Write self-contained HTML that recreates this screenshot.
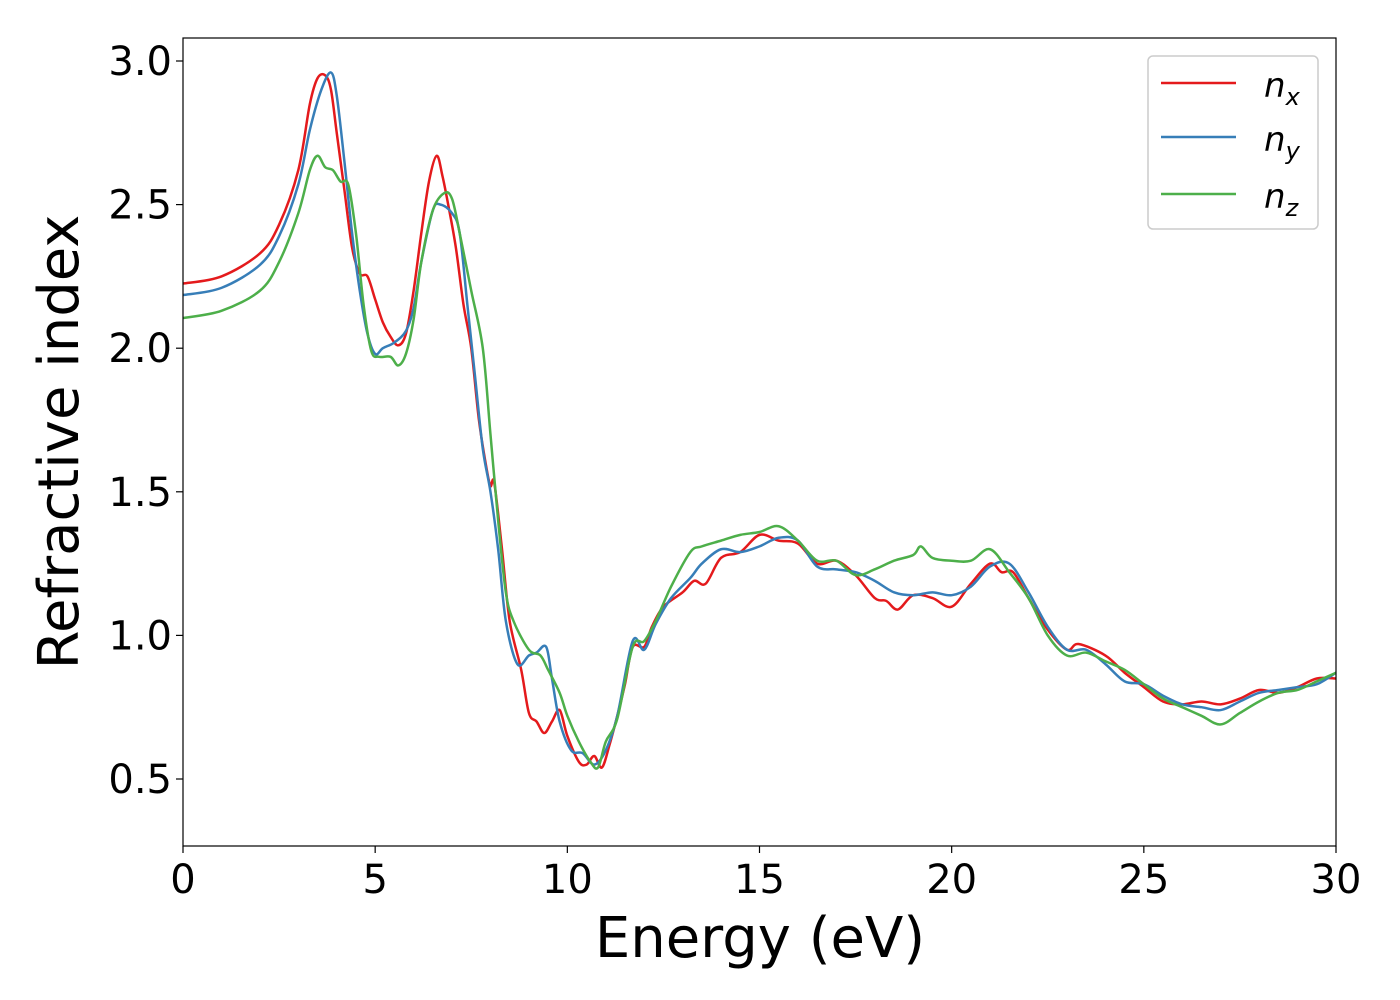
<!DOCTYPE html>
<html><head><meta charset="utf-8"><style>
body{margin:0;background:#fff;}
svg{display:block;font-family:"DejaVu Sans","Liberation Sans",sans-serif;}
</style></head><body>
<svg id="chart" width="1400" height="1000" xmlns="http://www.w3.org/2000/svg">
<rect x="0" y="0" width="1400" height="1000" fill="#fff"/>
<g id="series"></g>
<rect x="183" y="38" width="1153" height="808" fill="none" stroke="#000" stroke-width="1.2"/>
<g id="ticks"></g>
<text x="760" y="957" font-size="56" text-anchor="middle">Energy (eV)</text>
<text transform="translate(78,442) rotate(-90)" font-size="56" text-anchor="middle">Refractive index</text>
<g>
<rect x="1148" y="56" width="170" height="173" rx="5" fill="#fff" stroke="#ccc" stroke-width="1.5"/>
<line x1="1161" y1="83" x2="1236" y2="83" stroke="#e41a1c" stroke-width="2.5"/>
<text x="1264" y="97" font-size="34" font-style="italic">n<tspan font-size="24" dy="8">x</tspan></text>
<line x1="1161" y1="137" x2="1236" y2="137" stroke="#377eb8" stroke-width="2.5"/>
<text x="1264" y="151" font-size="34" font-style="italic">n<tspan font-size="24" dy="8">y</tspan></text>
<line x1="1161" y1="194" x2="1236" y2="194" stroke="#4daf4a" stroke-width="2.5"/>
<text x="1264" y="208" font-size="34" font-style="italic">n<tspan font-size="24" dy="8">z</tspan></text>
</g>
</svg>
<script>
const xTicks=[0,5,10,15,20,25,30];
const yTicks=[0.5,1.0,1.5,2.0,2.5,3.0];
const yTickLabels=["0.5","1.0","1.5","2.0","2.5","3.0"];
const nxE=[0,1,2,2.5,3,3.3,3.5,3.7,3.85,4.0,4.2,4.4,4.6,4.8,5.0,5.2,5.4,5.6,5.8,6.0,6.2,6.4,6.6,6.75,6.9,7.1,7.3,7.5,7.7,7.9,8.0,8.1,8.3,8.5,8.8,9.0,9.2,9.4,9.6,9.8,10.0,10.3,10.5,10.7,10.9,11.1,11.3,11.5,11.7,12.0,12.2,12.5,13,13.3,13.6,14,14.5,15,15.5,16,16.5,17,17.5,18,18.3,18.6,19,19.5,20,20.5,21,21.3,21.6,22,22.5,23,23.3,24,24.5,25,25.5,26,26.5,27,27.5,28,28.5,29,29.5,30];
const nxV=[2.225,2.25,2.33,2.43,2.62,2.85,2.94,2.95,2.90,2.75,2.55,2.35,2.26,2.25,2.17,2.09,2.04,2.01,2.05,2.20,2.40,2.58,2.67,2.60,2.50,2.35,2.15,2.00,1.75,1.58,1.52,1.53,1.30,1.05,0.88,0.73,0.70,0.66,0.70,0.74,0.65,0.56,0.55,0.58,0.54,0.62,0.72,0.83,0.96,0.96,1.03,1.10,1.15,1.19,1.18,1.27,1.29,1.35,1.33,1.32,1.25,1.26,1.21,1.13,1.12,1.09,1.14,1.13,1.10,1.18,1.25,1.22,1.22,1.13,1.02,0.95,0.97,0.93,0.87,0.82,0.77,0.76,0.77,0.76,0.78,0.81,0.80,0.82,0.85,0.85];
const nyE=[0,1,2,2.5,3,3.3,3.6,3.85,4.0,4.2,4.4,4.6,4.8,5.0,5.2,5.5,5.8,6.0,6.2,6.5,6.7,7.0,7.2,7.4,7.6,7.8,8.0,8.2,8.4,8.7,9.0,9.2,9.45,9.6,9.8,10.1,10.4,10.7,11.0,11.3,11.7,12.0,12.3,12.7,13.2,13.5,14,14.5,15,15.5,16,16.5,17,17.5,18,18.5,19,19.5,20,20.5,21,21.5,22,22.5,23,23.5,24,24.5,25,25.5,26,26.5,27,27.5,28,28.5,29,29.5,30];
const nyV=[2.185,2.21,2.29,2.39,2.57,2.76,2.90,2.96,2.88,2.65,2.40,2.20,2.05,1.98,2.00,2.02,2.06,2.14,2.30,2.48,2.50,2.47,2.40,2.15,1.90,1.65,1.50,1.30,1.05,0.90,0.93,0.94,0.96,0.85,0.70,0.60,0.59,0.55,0.60,0.72,0.98,0.95,1.04,1.13,1.20,1.25,1.30,1.29,1.31,1.34,1.33,1.24,1.23,1.22,1.19,1.15,1.14,1.15,1.14,1.17,1.24,1.25,1.15,1.03,0.95,0.95,0.90,0.84,0.83,0.79,0.76,0.75,0.74,0.77,0.80,0.81,0.82,0.83,0.87];
const nzE=[0,1,2,2.5,3,3.3,3.5,3.7,3.9,4.1,4.3,4.5,4.7,4.9,5.1,5.4,5.6,5.8,6.0,6.2,6.5,6.8,7.0,7.2,7.5,7.8,8.0,8.2,8.4,8.6,9.0,9.3,9.5,9.8,10.0,10.3,10.6,10.8,11.0,11.3,11.7,12.0,12.3,12.7,13.2,13.5,14,14.5,15,15.5,16,16.5,17,17.5,18,18.5,19,19.2,19.5,20,20.5,21,21.5,22,22.5,23,23.5,24,24.5,25,25.5,26,26.5,27,27.5,28,28.5,29,29.5,30];
const nzV=[2.105,2.13,2.20,2.30,2.47,2.62,2.67,2.63,2.62,2.58,2.57,2.40,2.15,1.99,1.97,1.97,1.94,1.98,2.10,2.30,2.48,2.54,2.52,2.40,2.20,2.00,1.70,1.40,1.15,1.05,0.95,0.93,0.88,0.80,0.72,0.63,0.56,0.54,0.63,0.71,0.96,0.98,1.05,1.17,1.29,1.31,1.33,1.35,1.36,1.38,1.33,1.26,1.26,1.21,1.23,1.26,1.28,1.31,1.27,1.26,1.26,1.30,1.22,1.13,1.00,0.93,0.94,0.91,0.88,0.83,0.78,0.75,0.72,0.69,0.73,0.77,0.80,0.81,0.84,0.87];
const NS="http://www.w3.org/2000/svg";
const xs=e=>183+(e-0)/30*1153;
const ys=v=>779-(v-0.5)*287.2;
function smooth(E,V){
  const p=E.map((e,i)=>[xs(e),ys(V[i])]);
  let d="M"+p[0][0]+","+p[0][1];
  for(let i=0;i<p.length-1;i++){
    const p0=p[Math.max(0,i-1)],p1=p[i],p2=p[i+1],p3=p[Math.min(p.length-1,i+2)];
    const c1=[p1[0]+(p2[0]-p0[0])/6,p1[1]+(p2[1]-p0[1])/6];
    const c2=[p2[0]-(p3[0]-p1[0])/6,p2[1]-(p3[1]-p1[1])/6];
    d+=" C"+c1[0]+","+c1[1]+" "+c2[0]+","+c2[1]+" "+p2[0]+","+p2[1];
  }
  return d;
}
const g=document.getElementById("series");
[[nxE,nxV,"#e41a1c","line-nx"],[nyE,nyV,"#377eb8","line-ny"],[nzE,nzV,"#4daf4a","line-nz"]].forEach(s=>{
  const el=document.createElementNS(NS,"path");
  el.setAttribute("d",smooth(s[0],s[1]));
  el.setAttribute("fill","none");
  el.setAttribute("stroke",s[2]);
  el.setAttribute("stroke-width","2.5");
  el.setAttribute("stroke-linejoin","round");
  
  
  g.appendChild(el);
});
const t=document.getElementById("ticks");
xTicks.forEach(v=>{
  const l=document.createElementNS(NS,"line");
  l.setAttribute("x1",xs(v));l.setAttribute("x2",xs(v));l.setAttribute("y1",846);l.setAttribute("y2",853);
  l.setAttribute("stroke","#000");l.setAttribute("stroke-width","1.2");
  
  
  t.appendChild(l);
  const tx=document.createElementNS(NS,"text");
  tx.setAttribute("x",xs(v));tx.setAttribute("y",893);tx.setAttribute("font-size","40");tx.setAttribute("text-anchor","middle");
  tx.textContent=String(v);
  
  
  t.appendChild(tx);
});
yTicks.forEach((v,i)=>{
  const l=document.createElementNS(NS,"line");
  l.setAttribute("x1",176);l.setAttribute("x2",183);l.setAttribute("y1",ys(v));l.setAttribute("y2",ys(v));
  l.setAttribute("stroke","#000");l.setAttribute("stroke-width","1.2");
  
  
  t.appendChild(l);
  const tx=document.createElementNS(NS,"text");
  tx.setAttribute("x",172);tx.setAttribute("y",ys(v)+14);tx.setAttribute("font-size","40");tx.setAttribute("text-anchor","end");
  tx.textContent=yTickLabels[i];
  
  
  t.appendChild(tx);
});
</script>
</body></html>
